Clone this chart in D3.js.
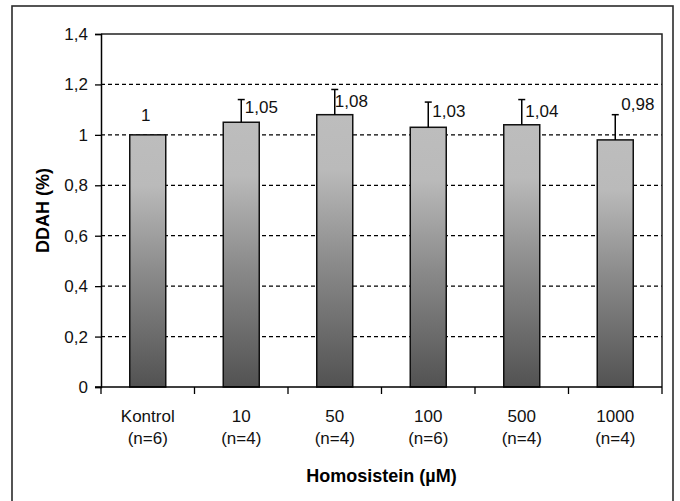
<!DOCTYPE html>
<html>
<head>
<meta charset="utf-8">
<script src="https://cdn.jsdelivr.net/npm/d3@7"></script>
<style>
  html, body { margin: 0; padding: 0; background: #fff; }
  svg { display: block; font-family: "Liberation Sans", Arial, sans-serif; }
</style>
</head>
<body>
<svg id="chart" width="680" height="501"></svg>
<script>
// ---- data ----
const categories = ["Kontrol", "10", "50", "100", "500", "1000"];
const groupSizes = ["(n=6)", "(n=4)", "(n=4)", "(n=6)", "(n=4)", "(n=4)"];
const values = [1, 1.05, 1.08, 1.03, 1.04, 0.98];
const errors = [0, 0.09, 0.10, 0.10, 0.10, 0.10];
const yTicks = [0, 0.2, 0.4, 0.6, 0.8, 1.0, 1.2, 1.4];
const yTitle = "DDAH (%)";
const xTitle = "Homosistein (\u00B5M)";

// ---- layout (label nudges in px, relative to bar centre / error-bar top) ----
const labelDx = [-2, 3.5, 0, 4, 3.5, 6];
const labelDy = [-14, 13.5, 17.5, 15, 17.5, -4.5];

const svg = d3.select("#chart");
const pL = 101, pR = 662, pT = 34, pB = 387;

const x = d3.scaleBand().domain(categories).range([pL, pR])
  .paddingInner(0.615).paddingOuter(0.3075);
const y = d3.scaleLinear().domain([0, 1.4]).range([pB, pT]);
const fmt = v => d3.format(".2~f")(v).replace(".", ",");

// outer frame
svg.append("rect").attr("x", 12).attr("y", 6).attr("width", 661).attr("height", 560)
  .attr("fill", "none").attr("stroke", "#2b2b2b").attr("stroke-width", 1.6);

// gradient
const defs = svg.append("defs");
const grad = defs.append("linearGradient").attr("id", "barGrad")
  .attr("x1", 0).attr("y1", 0).attr("x2", 0).attr("y2", 1);
grad.append("stop").attr("offset", "0%").attr("stop-color", "#bdbdbd");
grad.append("stop").attr("offset", "20%").attr("stop-color", "#bababa");
grad.append("stop").attr("offset", "55%").attr("stop-color", "#8a8a8a");
grad.append("stop").attr("offset", "100%").attr("stop-color", "#525252");

// gridlines (dashed)
svg.append("g").selectAll("line").data(yTicks.filter(t => t > 0 && t < 1.4)).join("line")
  .attr("x1", pL).attr("x2", pR)
  .attr("y1", d => y(d)).attr("y2", d => y(d))
  .attr("stroke", "#000").attr("stroke-width", 1.3)
  .attr("stroke-dasharray", "4,3");

// plot border top & right
svg.append("path")
  .attr("d", `M${pL},${y(1.4)}H${pR}V${y(0)}`)
  .attr("fill", "none").attr("stroke", "#222").attr("stroke-width", 1.5);

// y axis
const yAxis = d3.axisLeft(y).tickValues(yTicks).tickSize(6).tickPadding(7).tickFormat(fmt);
const gy = svg.append("g").attr("transform", `translate(${pL},0)`).call(yAxis);
gy.select(".domain").attr("stroke", "#000").attr("stroke-width", 1.5);
gy.selectAll(".tick line").attr("stroke", "#000").attr("stroke-width", 1.3);
gy.selectAll(".tick text").attr("font-size", 17).attr("fill", "#111")
  .attr("font-family", "Liberation Sans, Arial, sans-serif");

// bars
svg.append("g").selectAll("rect").data(values).join("rect")
  .attr("x", (d, i) => x(categories[i]))
  .attr("y", d => y(d))
  .attr("width", x.bandwidth())
  .attr("height", d => y(0) - y(d))
  .attr("fill", "url(#barGrad)")
  .attr("stroke", "#111").attr("stroke-width", 1.5);

// error bars (upper only)
const eg = svg.append("g").attr("stroke", "#000").attr("stroke-width", 1.5);
values.forEach((v, i) => {
  if (!errors[i]) return;
  const cx = x(categories[i]) + x.bandwidth() / 2;
  eg.append("line").attr("x1", cx).attr("x2", cx).attr("y1", y(v)).attr("y2", y(v + errors[i]));
  eg.append("line").attr("x1", cx - 3.5).attr("x2", cx + 3.5)
    .attr("y1", y(v + errors[i])).attr("y2", y(v + errors[i]));
});

// data labels
svg.append("g").selectAll("text").data(values).join("text")
  .attr("x", (d, i) => x(categories[i]) + x.bandwidth() / 2 + labelDx[i])
  .attr("y", (d, i) => (errors[i] ? y(d + errors[i]) : y(d)) + labelDy[i])
  .attr("text-anchor", (d, i) => errors[i] ? "start" : "middle")
  .attr("font-size", 17).attr("fill", "#111")
  .text(d => fmt(d));

// x axis
const xAxisG = svg.append("g");
xAxisG.append("line").attr("x1", pL - 6).attr("x2", pR).attr("y1", pB).attr("y2", pB)
  .attr("stroke", "#000").attr("stroke-width", 1.5);
const boundaries = d3.range(categories.length + 1).map(i => pL + i * x.step());
xAxisG.selectAll("line.tk").data(boundaries).join("line").attr("class", "tk")
  .attr("x1", d => d).attr("x2", d => d).attr("y1", pB).attr("y2", pB + 7)
  .attr("stroke", "#000").attr("stroke-width", 1.3);

const xl = svg.append("g").attr("font-size", 17).attr("fill", "#111").attr("text-anchor", "middle");
categories.forEach((c, i) => {
  const cx = x(c) + x.bandwidth() / 2;
  xl.append("text").attr("x", cx).attr("y", 422).text(c);
  xl.append("text").attr("x", cx).attr("y", 444).text(groupSizes[i]);
});

// axis titles
svg.append("text").attr("x", (pL + pR) / 2).attr("y", 482)
  .attr("text-anchor", "middle").attr("font-size", 18).attr("font-weight", "bold")
  .attr("fill", "#000").text(xTitle);
svg.append("text")
  .attr("transform", `translate(49,${(pT + pB) / 2}) rotate(-90)`)
  .attr("text-anchor", "middle").attr("font-size", 18).attr("font-weight", "bold")
  .attr("fill", "#000").text(yTitle);
</script>
</body>
</html>
